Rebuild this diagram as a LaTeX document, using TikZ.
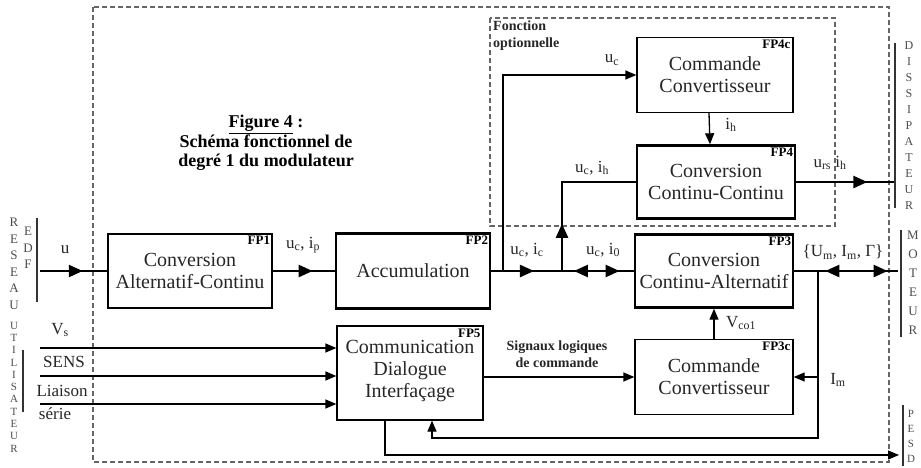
\documentclass[tikz,border=0pt]{standalone}
\usepackage{fontspec}
\setmainfont{Liberation Serif}
\usetikzlibrary{arrows.meta, decorations.markings}

\begin{document}
\begin{tikzpicture}[x=1pt, y=-1pt,
  >={Triangle[length=14pt,width=12pt]},
  every node/.style={font=\fontsize{17}{19}\selectfont, text=black!85, inner sep=1pt},
  fbox/.style={rectangle, draw, line width=1.3pt, align=center, inner sep=0pt,
               font=\fontsize{20}{22}\selectfont},
  fboxb/.style={fbox, line width=2.4pt},
  tag/.style={anchor=north east, text=black, font=\bfseries\fontsize{13}{14}\selectfont},
  bus/.style={line width=2.4pt},
  sig/.style={line width=1.3pt, -{Triangle[length=11pt,width=9pt]}},
  bar/.style={line width=1.5pt, black!80},
  dashbox/.style={line width=1.6pt, black!60, dash pattern=on 5pt off 3pt},
  vlet/.style={align=center, text=black!70, font=\fontsize{13}{16.5}\selectfont},
  small/.style={align=center, font=\bfseries\fontsize{14}{17}\selectfont},
  midarr/.style={postaction={decorate, decoration={markings,
                 mark=at position #1 with {\arrow{>}}}}},
  midrev/.style={postaction={decorate, decoration={markings,
                 mark=at position #1 with {\arrowreversed{>}}}}},
]
  \useasboundingbox (0,0) rectangle (921,467);

  \draw[dashbox] (93,7) rectangle (889,462);
  \draw[dashbox] (490,18) rectangle (835,226);
  \node[small, anchor=north west, align=left] (opt) at (492,20) {Fonction\\optionnelle};

  \node[align=center, text=black, font=\bfseries\fontsize{18}{19.5}\selectfont] (title) at (266,143)
    {\underline{Figure 4} :\\Schéma fonctionnel de\\degré 1 du modulateur};

  \node[fboxb, minimum width=164pt, minimum height=74pt] (fp1) at (190,271)
    {Conversion\\Alternatif-Continu};
  \node[fboxb, minimum width=154pt, minimum height=75pt] (fp2) at (413,271)
    {Accumulation};
  \node[fboxb, minimum width=158pt, minimum height=73pt] (fp3) at (714,271)
    {Conversion\\Continu-Alternatif};
  \node[fboxb, minimum width=158pt, minimum height=73pt] (fp4) at (716,182)
    {Conversion\\Continu-Continu};
  \node[fbox, minimum width=156pt, minimum height=75pt] (fp4c) at (715,75)
    {Commande\\Convertisseur};
  \node[fbox, minimum width=146pt, minimum height=94pt] (fp5) at (410,373)
    {\\[-12pt]Communication\\Dialogue\\Interfaçage};
  \node[fbox, minimum width=158pt, minimum height=75pt] (fp3c) at (714,377)
    {Commande\\Convertisseur};

  \node[tag] at ([shift={(-2,2)}]fp1.north east) {FP1};
  \node[tag] at ([shift={(-2,2)}]fp2.north east) {FP2};
  \node[tag] at ([shift={(-2,2)}]fp3.north east) {FP3};
  \node[tag] at ([shift={(-2,2)}]fp4.north east) {FP4};
  \node[tag] at ([shift={(-2,2)}]fp4c.north east) {FP4c};
  \node[tag] at ([shift={(-2,2)}]fp5.north east) {FP5};
  \node[tag] at ([shift={(-2,2)}]fp3c.north east) {FP3c};

  \coordinate (ein) at (40,271);
  \coordinate (b1) at (503,271);
  \coordinate (b2) at (562,271);
  \coordinate (dis) at (895,182);
  \coordinate (mot) at (898,271);
  \coordinate (fb) at (818,271);
  \coordinate (imj) at (818,377);
  \coordinate (pc) at (899,455);
  \coordinate (in1) at (40,348);
  \coordinate (in2) at (40,376);
  \coordinate (in3) at (40,404);

  \draw[bus, midarr=0.64] (ein) -- (fp1.west);
  \draw[bus, midarr=0.64] (fp1.east) -- (fp2.west);
  \draw[bus, midarr=0.3, midrev=0.58, midarr=0.9] (fp2.east) -- (fp3.west);
  \draw[sig] (b1) |- (fp4c.west);
  \draw[bus, midarr=0.29] (b2) |- (fp4.west);
  \draw[sig] ([xshift=-6pt]fp4c.south) -- ([xshift=-6pt]fp4.north);
  \draw[bus, midarr=0.72] (fp4.east) -- (dis);
  \draw[bus, midrev=0.3, midarr=0.9] (fp3.east) -- (mot);
  \draw[sig] (fp3c.north) -- (fp3.south);
  \draw[sig] (fp5.east |- fp3c.west) -- (fp3c.west);
  \draw[sig] (fb) -- (818,438) -| ([xshift=22pt]fp5.south);
  \draw[sig] (imj) -- (fp3c.east);
  \draw[sig] ([xshift=-25pt]fp5.south) |- (pc);
  \draw[sig] (in1) -- (fp5.west |- in1);
  \draw[sig] (in2) -- (fp5.west |- in2);
  \draw[sig] (in3) -- (fp5.west |- in3);

  \draw[bar] (37,218) -- (37,302);
  \draw[bar] (23,350) -- (23,412);
  \draw[bar] (895,43) -- (895,208);
  \draw[bar] (901,230) -- (901,337);
  \draw[bar] (903,405) -- (903,466);

  \node[vlet] (reseau) at (14,264) {R\\E\\S\\E\\A\\U};
  \node[vlet] (edf) at (28,248) {E\\D\\F};
  \node[vlet, font=\fontsize{11}{12.3}\selectfont] (util) at (14,387) {U\\T\\I\\L\\I\\S\\A\\T\\E\\U\\R};
  \node[vlet, font=\fontsize{12}{16}\selectfont] (dissip) at (909,126) {D\\I\\S\\S\\I\\P\\A\\T\\E\\U\\R};
  \node[vlet, font=\fontsize{13}{19}\selectfont] (moteur) at (913,283) {M\\O\\T\\E\\U\\R};
  \node[vlet, font=\fontsize{11}{15}\selectfont] (pcl) at (911,436) {P\\E\\S\\D};

  \node (lu) at (65,250) {u};
  \node (lup) at (303,245) {u\textsubscript{c}, i\textsubscript{p}};
  \node (luc) at (527,250) {u\textsubscript{c}, i\textsubscript{c}};
  \node (luo) at (603,250) {u\textsubscript{c}, i\textsubscript{0}};
  \node (lucc) at (612,60) {u\textsubscript{c}};
  \node (lih) at (731,125) {i\textsubscript{h}};
  \node (luh) at (592,168) {u\textsubscript{c}, i\textsubscript{h}};
  \node (lurs) at (830,163) {u\textsubscript{rs} i\textsubscript{h}};
  \node (lum) at (843,252) {\{U\textsubscript{m}, I\textsubscript{m}, Γ\}};
  \node (lvco) at (741,323) {V\textsubscript{co1}};
  \node (lim) at (838,380) {I\textsubscript{m}};
  \node[small] (lsig) at (557,354) {Signaux logiques\\de commande};
  \node (lvs) at (60,330) {V\textsubscript{s}};
  \node (lsens) at (64,362) {SENS};
  \node (lli) at (62,391) {Liaison};
  \node (lse) at (55,414) {série};
\end{tikzpicture}
\end{document}
